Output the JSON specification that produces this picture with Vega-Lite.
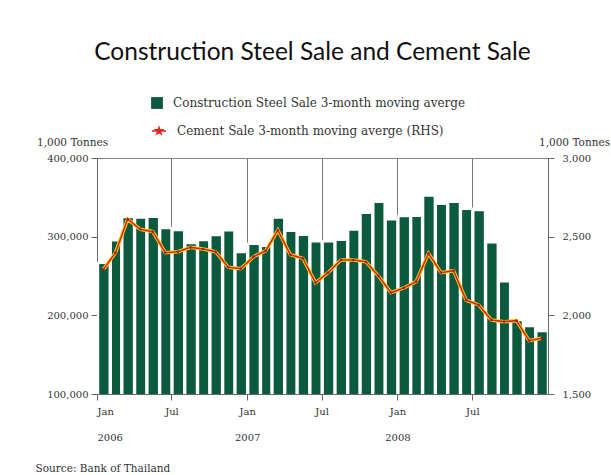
{
  "$schema": "https://vega.github.io/schema/vega-lite/v6.json",
  "width": 451,
  "height": 236,
  "autosize": {"type": "none"},
  "padding": {"left": 97, "top": 158, "right": 63, "bottom": 81},
  "background": "white",
  "title": {
    "text": "Construction Steel Sale and Cement Sale",
    "font": "Lato",
    "fontSize": 24.5,
    "fontWeight": "normal",
    "color": "#111",
    "anchor": "middle",
    "frame": "group",
    "offset": 32,
    "dx": -10
  },
  "config": {
    "view": {"stroke": "#888", "strokeWidth": 1},
    "axis": {
      "labelFont": "DejaVu Serif",
      "titleFont": "DejaVu Serif",
      "labelFontSize": 10,
      "titleFontSize": 10.5,
      "labelColor": "#333",
      "titleColor": "#333",
      "titleFontWeight": "normal",
      "domainColor": "#666",
      "tickColor": "#666"
    },
    "legend": {
      "labelFont": "DejaVu Serif",
      "labelFontSize": 12,
      "labelColor": "#333",
      "labelLimit": 0,
      "labelOffset": 10,
      "orient": "none"
    }
  },
  "data": {
    "values": [
      {"date": "2006-01-01", "steel": 266700, "cement": 2292},
      {"date": "2006-02-01", "steel": 295300, "cement": 2398},
      {"date": "2006-03-01", "steel": 324900, "cement": 2612},
      {"date": "2006-04-01", "steel": 324400, "cement": 2547},
      {"date": "2006-05-01", "steel": 325300, "cement": 2532},
      {"date": "2006-06-01", "steel": 311000, "cement": 2398},
      {"date": "2006-07-01", "steel": 308500, "cement": 2404},
      {"date": "2006-08-01", "steel": 292000, "cement": 2432},
      {"date": "2006-09-01", "steel": 295800, "cement": 2422},
      {"date": "2006-10-01", "steel": 302000, "cement": 2404},
      {"date": "2006-11-01", "steel": 308000, "cement": 2305},
      {"date": "2006-12-01", "steel": 280600, "cement": 2296},
      {"date": "2007-01-01", "steel": 291000, "cement": 2373},
      {"date": "2007-02-01", "steel": 288500, "cement": 2410},
      {"date": "2007-03-01", "steel": 324400, "cement": 2542},
      {"date": "2007-04-01", "steel": 307600, "cement": 2385},
      {"date": "2007-05-01", "steel": 302500, "cement": 2362},
      {"date": "2007-06-01", "steel": 294000, "cement": 2207},
      {"date": "2007-07-01", "steel": 294000, "cement": 2271},
      {"date": "2007-08-01", "steel": 296000, "cement": 2352},
      {"date": "2007-09-01", "steel": 308900, "cement": 2352},
      {"date": "2007-10-01", "steel": 330400, "cement": 2341},
      {"date": "2007-11-01", "steel": 344300, "cement": 2250},
      {"date": "2007-12-01", "steel": 322000, "cement": 2144},
      {"date": "2008-01-01", "steel": 326200, "cement": 2174},
      {"date": "2008-02-01", "steel": 326600, "cement": 2214},
      {"date": "2008-03-01", "steel": 352300, "cement": 2394},
      {"date": "2008-04-01", "steel": 341800, "cement": 2271},
      {"date": "2008-05-01", "steel": 344300, "cement": 2284},
      {"date": "2008-06-01", "steel": 335400, "cement": 2097},
      {"date": "2008-07-01", "steel": 333800, "cement": 2066},
      {"date": "2008-08-01", "steel": 292800, "cement": 1970},
      {"date": "2008-09-01", "steel": 243400, "cement": 1960},
      {"date": "2008-10-01", "steel": 194000, "cement": 1966},
      {"date": "2008-11-01", "steel": 186400, "cement": 1839},
      {"date": "2008-12-01", "steel": 180100, "cement": 1854}
    ]
  },
  "encoding": {
    "x": {
      "field": "date",
      "type": "temporal",
      "timeUnit": "utcyearmonth",
      "scale": {
        "type": "utc",
        "domain": [
          {"year": 2006, "month": 1, "date": 1, "utc": true},
          {"year": 2009, "month": 1, "date": 1, "utc": true}
        ]
      },
      "axis": {
        "values": [
          {"year": 2006, "month": 1, "date": 1, "utc": true},
          {"year": 2006, "month": 7, "date": 1, "utc": true},
          {"year": 2007, "month": 1, "date": 1, "utc": true},
          {"year": 2007, "month": 7, "date": 1, "utc": true},
          {"year": 2008, "month": 1, "date": 1, "utc": true},
          {"year": 2008, "month": 7, "date": 1, "utc": true}
        ],
        "labelExpr": "utcmonth(datum.value) == 0 ? ['Jan', utcFormat(datum.value, '%Y')] : 'Jul'",
        "labelLineHeight": 26,
        "labelBaseline": "top",
        "labelPadding": 6,
        "tickSize": 6,
        "grid": true,
        "gridColor": "#777",
        "gridWidth": 1,
        "title": "Source: Bank of Thailand",
        "titleFontSize": 10.5,
        "titleX": -62,
        "titleY": 79,
        "titleAlign": "left",
        "titleAnchor": null,
        "titleBaseline": "bottom"
      }
    }
  },
  "layer": [
    {
      "mark": {"type": "bar", "clip": true, "stroke": "white", "strokeWidth": 2.4, "strokeOpacity": 1},
      "encoding": {
        "y": {
          "field": "steel",
          "type": "quantitative",
          "scale": {"domain": [100000, 400000], "nice": false},
          "axis": {
            "values": [100000, 200000, 300000, 400000],
            "format": ",.0f",
            "grid": false,
            "tickSize": 6,
            "labelPadding": 3,
            "title": "1,000 Tonnes",
            "titleAngle": 0,
            "titleX": -25,
            "titleY": -13,
            "titleAlign": "center",
            "titleBaseline": "alphabetic"
          }
        },
        "fill": {
          "datum": "Construction Steel Sale 3-month moving averge",
          "scale": {"range": ["#0b5a3e"]},
          "legend": {
            "title": null,
            "symbolType": "square",
            "symbolSize": 140,
            "symbolStrokeWidth": 0,
            "legendX": 54,
            "legendY": -61
          }
        }
      }
    },
    {
      "mark": {"type": "line", "color": "#f2d21c", "strokeWidth": 3.5},
      "encoding": {
        "x": {"field": "date", "type": "temporal", "timeUnit": "utcyearmonth", "bandPosition": 0.5},
        "y": {"field": "cement", "type": "quantitative", "scale": {"domain": [1500, 3000], "nice": false}, "axis": null}
      }
    },
    {
      "mark": {"type": "line", "strokeWidth": 1.6},
      "encoding": {
        "x": {"field": "date", "type": "temporal", "timeUnit": "utcyearmonth", "bandPosition": 0.5},
        "y": {
          "field": "cement",
          "type": "quantitative",
          "scale": {"domain": [1500, 3000], "nice": false},
          "axis": {
            "orient": "right",
            "values": [1500, 2000, 2500, 3000],
            "format": ",.0f",
            "grid": false,
            "tickSize": 6,
            "labelPadding": 8,
            "title": "1,000 Tonnes",
            "titleAngle": 0,
            "titleX": 26,
            "titleY": -13,
            "titleAlign": "center",
            "titleBaseline": "alphabetic"
          }
        },
        "stroke": {
          "datum": "Cement Sale 3-month moving averge (RHS)",
          "scale": {"range": ["#e0261c"]},
          "legend": {
            "title": null,
            "symbolType": "M-1,0L1,0M0,-0.5L0.12,-0.16L0.48,-0.16L0.19,0.06L0.3,0.4L0,0.2L-0.3,0.4L-0.19,0.06L-0.48,-0.16L-0.12,-0.16Z",
            "symbolSize": 200,
            "symbolFillColor": "#c01818",
            "symbolStrokeWidth": 1.5,
            "legendX": 54,
            "legendY": -35
          }
        }
      }
    },
    {
      "mark": {"type": "point", "shape": "diamond", "filled": true, "size": 14, "color": "#a01010"},
      "encoding": {
        "x": {"field": "date", "type": "temporal", "timeUnit": "utcyearmonth", "bandPosition": 0.5},
        "y": {"field": "cement", "type": "quantitative", "scale": {"domain": [1500, 3000], "nice": false}, "axis": null}
      }
    }
  ],
  "resolve": {"scale": {"y": "independent", "fill": "independent", "stroke": "independent"}}
}
